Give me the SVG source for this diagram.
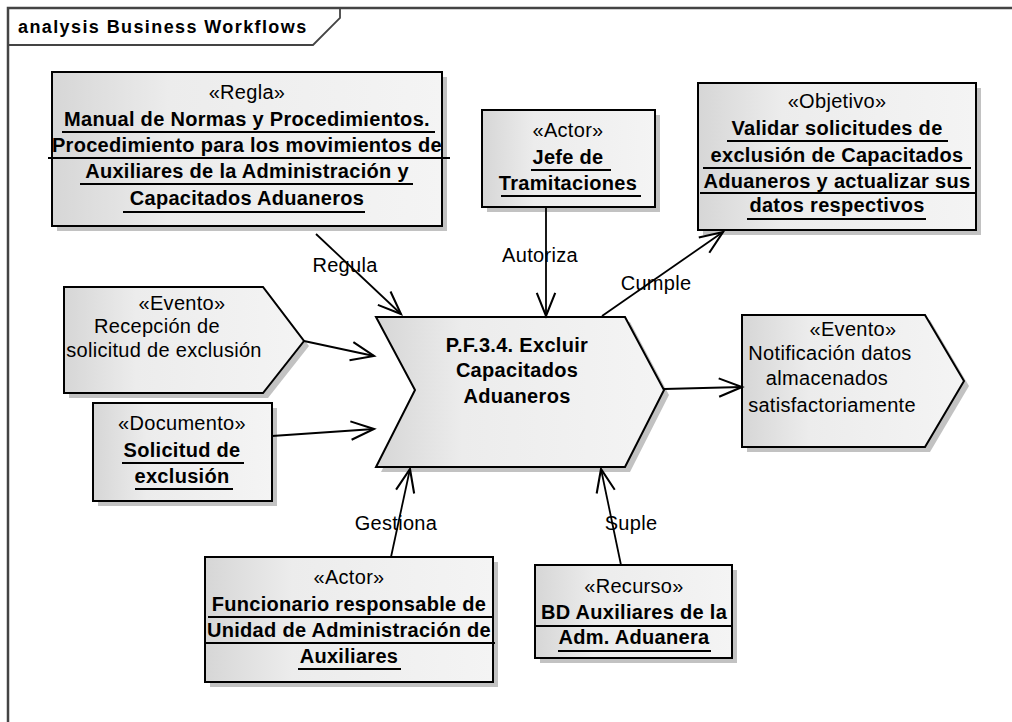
<svg xmlns="http://www.w3.org/2000/svg" width="1012" height="722" viewBox="0 0 1012 722">
<defs>
<linearGradient id="g" x1="0" y1="0" x2="1" y2="0">
<stop offset="0" stop-color="#d6d6d6"/>
<stop offset="0.3" stop-color="#ececec"/>
<stop offset="1" stop-color="#f4f4f4"/>
</linearGradient>
<marker id="arr" markerUnits="userSpaceOnUse" markerWidth="30" markerHeight="30" viewBox="-22 -12 26 24" refX="0" refY="0" orient="auto">
<path d="M-20,-8 L0,0 L-20,8" fill="none" stroke="#000" stroke-width="1.8"/>
</marker>
<style>
text{font-family:"Liberation Sans",Arial,sans-serif;font-size:20px;fill:#000;letter-spacing:0.3px}
.c{text-anchor:middle}
.b{font-weight:bold}
.box{fill:url(#g);stroke:#000;stroke-width:2}
.sh{fill:#c2c2c2}
.u{stroke:#000;stroke-width:2}
.con line{stroke:#000;stroke-width:1.8}
</style>
</defs>
<rect width="1012" height="722" fill="#fff"/>
<g id="frame">
<path d="M8,722 L8,8 L1012,8" fill="none" stroke="#444" stroke-width="2.5"/>
<path d="M8,45 L313,45 L340,18 L340,8" fill="none" stroke="#444" stroke-width="1.8"/>
<text x="18" y="33" class="b" style="font-size:18px;letter-spacing:1.4px">analysis Business Workflows</text>
</g>
<g id="regla">
<rect x="57" y="77" width="390" height="154" class="sh"/>
<rect x="52" y="72" width="390" height="154" class="box"/>
<text x="247" y="99" class="c">«Regla»</text>
<text x="247" y="126" class="c b">Manual de Normas y Procedimientos.</text>
<line x1="62" y1="132" x2="435" y2="132" class="u"/>
<text x="247" y="152" class="c b">Procedimiento para los movimientos de</text>
<line x1="48" y1="158" x2="450" y2="158" class="u"/>
<text x="247" y="178" class="c b">Auxiliares de la Administración y</text>
<line x1="80" y1="184" x2="413" y2="184" class="u"/>
<text x="247" y="205" class="c b">Capacitados Aduaneros</text>
<line x1="123" y1="212" x2="365" y2="212" class="u"/>
</g>
<g id="jefe">
<rect x="487" y="115" width="173" height="97" class="sh"/>
<rect x="482" y="110" width="173" height="97" class="box"/>
<text x="568" y="137" class="c">«Actor»</text>
<text x="568" y="164" class="c b">Jefe de</text>
<line x1="531" y1="170" x2="611" y2="170" class="u"/>
<text x="568" y="190" class="c b">Tramitaciones</text>
<line x1="501" y1="196" x2="641" y2="196" class="u"/>
</g>
<g id="objetivo">
<rect x="703" y="88" width="278" height="147" class="sh"/>
<rect x="698" y="83" width="278" height="147" class="box"/>
<text x="837" y="108" class="c">«Objetivo»</text>
<text x="837" y="135" class="c b">Validar solicitudes de</text>
<line x1="727" y1="141" x2="948" y2="141" class="u"/>
<text x="837" y="162" class="c b">exclusión de Capacitados</text>
<line x1="703" y1="168" x2="971" y2="168" class="u"/>
<text x="837" y="188" class="c b">Aduaneros y actualizar sus</text>
<line x1="700" y1="193" x2="976" y2="193" class="u"/>
<text x="837" y="212" class="c b">datos respectivos</text>
<line x1="747" y1="219" x2="926" y2="219" class="u"/>
</g>
<g id="evento1">
<path d="M69,292 L268,292 L309,346 L268,398 L69,398 Z" class="sh"/>
<path d="M64,287 L263,287 L304,341 L263,393 L64,393 Z" class="box"/>
<text x="182" y="310" class="c">«Evento»</text>
<text x="157" y="333" class="c">Recepción de</text>
<text x="164" y="357" class="c">solicitud de exclusión</text>
</g>
<g id="documento">
<rect x="98" y="408" width="179" height="98" class="sh"/>
<rect x="93" y="403" width="179" height="98" class="box"/>
<text x="182" y="430" class="c">«Documento»</text>
<text x="182" y="457" class="c b">Solicitud de</text>
<line x1="122" y1="463" x2="244" y2="463" class="u"/>
<text x="182" y="483" class="c b">exclusión</text>
<line x1="135" y1="489" x2="233" y2="489" class="u"/>
</g>
<g id="proceso">
<path d="M381,322 L630,322 L669,395 L630,472 L381,472 L420,395 Z" class="sh"/>
<path d="M376,317 L625,317 L664,390 L625,467 L376,467 L415,390 Z" class="box"/>
<text x="517" y="352" class="c b">P.F.3.4. Excluir</text>
<text x="517" y="377" class="c b">Capacitados</text>
<text x="517" y="403" class="c b">Aduaneros</text>
</g>
<g id="evento2">
<path d="M747,320 L930,320 L969,386 L930,452 L747,452 Z" class="sh"/>
<path d="M742,315 L925,315 L964,381 L925,447 L742,447 Z" class="box"/>
<text x="853" y="336" class="c">«Evento»</text>
<text x="830" y="360" class="c">Notificación datos</text>
<text x="827" y="385" class="c">almacenados</text>
<text x="832" y="412" class="c">satisfactoriamente</text>
</g>
<g id="funcionario">
<rect x="210" y="562" width="288" height="125" class="sh"/>
<rect x="205" y="557" width="288" height="125" class="box"/>
<text x="349" y="584" class="c">«Actor»</text>
<text x="349" y="611" class="c b">Funcionario responsable de</text>
<line x1="208" y1="617" x2="492" y2="617" class="u"/>
<text x="349" y="637" class="c b">Unidad de Administración de</text>
<line x1="205" y1="643" x2="495" y2="643" class="u"/>
<text x="349" y="663" class="c b">Auxiliares</text>
<line x1="298" y1="669" x2="401" y2="669" class="u"/>
</g>
<g id="recurso">
<rect x="540" y="570" width="197" height="93" class="sh"/>
<rect x="535" y="565" width="197" height="93" class="box"/>
<text x="634" y="593" class="c">«Recurso»</text>
<text x="634" y="619" class="c b">BD Auxiliares de la</text>
<line x1="535" y1="626" x2="732" y2="626" class="u"/>
<text x="634" y="644" class="c b">Adm. Aduanera</text>
<line x1="558" y1="651" x2="711" y2="651" class="u"/>
</g>
<g id="connectors" class="con">
<line x1="316" y1="234" x2="401" y2="314" marker-end="url(#arr)"/>
<line x1="546" y1="208" x2="546" y2="316" marker-end="url(#arr)"/>
<line x1="602" y1="316" x2="723" y2="232" marker-end="url(#arr)"/>
<line x1="304" y1="341" x2="374" y2="356" marker-end="url(#arr)"/>
<line x1="272" y1="436" x2="374" y2="429" marker-end="url(#arr)"/>
<line x1="664" y1="389" x2="742" y2="387" marker-end="url(#arr)"/>
<line x1="391" y1="557" x2="410" y2="469" marker-end="url(#arr)"/>
<line x1="621" y1="565" x2="601" y2="469" marker-end="url(#arr)"/>
<text x="345" y="272" class="c">Regula</text>
<text x="540" y="262" class="c">Autoriza</text>
<text x="656" y="290" class="c">Cumple</text>
<text x="396" y="530" class="c">Gestiona</text>
<text x="631" y="530" class="c">Suple</text>
</g>
</svg>
